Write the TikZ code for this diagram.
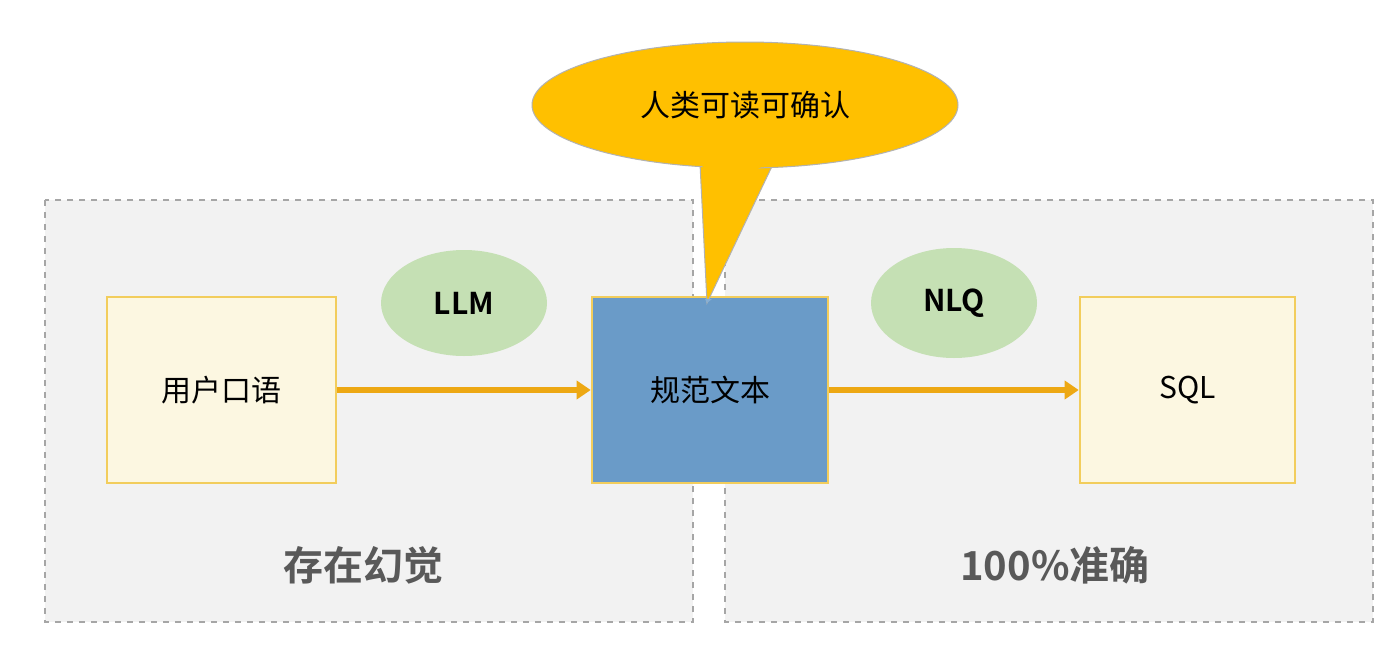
\documentclass[tikz,border=0pt]{standalone}
\usepackage{fontspec}
\setmainfont{Noto Sans CJK SC}[BoldFont={Noto Sans CJK SC Bold}]
\usetikzlibrary{shapes.geometric,arrows.meta}
\definecolor{bggray}{HTML}{F2F2F2}
\definecolor{ylw}{HTML}{FCF7E1}
\definecolor{ybord}{HTML}{F2CD5C}
\definecolor{grn}{HTML}{C5E0B4}
\definecolor{org}{HTML}{EDA813}
\definecolor{blu}{HTML}{6A9BC8}
\definecolor{gold}{HTML}{FFC000}
\definecolor{txtg}{HTML}{595959}
\begin{document}
\begin{tikzpicture}[x=0.5pt,y=-0.5pt,
  panel/.style={draw=gray!70,dashed,fill=bggray,line width=0.6pt},
  box/.style={draw=ybord,line width=1.3pt,minimum width=114.5pt,minimum height=93pt,font=\fontsize{15}{18}\selectfont},
  oval/.style={ellipse,fill=grn,minimum width=83pt,minimum height=53pt,font=\bfseries\fontsize{15}{18}\selectfont},
  arr/.style={draw=org,line width=3pt,-{Triangle[length=7pt,width=9pt]}},
  big/.style={text=txtg,font=\bfseries\fontsize{20}{24}\selectfont}]
\useasboundingbox (0,0) rectangle (1400,648);
\fill[white] (0,0) rectangle (1400,648);
\draw[panel] (45,200) rectangle (693,622);
\draw[panel] (725,200) rectangle (1373,622);
\node[box,fill=ylw] (u) at (221.5,390) {用户口语};
\node[box,fill=blu,minimum width=118pt] (g) at (710,390) {规范文本};
\node[box,fill=ylw,minimum width=107.5pt] (s) at (1187.5,390) {SQL};
\node[oval] (llm) at (464,303) {LLM};
\node[oval,minimum height=55pt] (nlq) at (954,303) {NLQ};
\draw[arr] (u) -- (g);
\draw[arr] (g) -- (s);
% callout
\coordinate (tip) at (707,303);
\path[fill=gold,draw=gray!60,line width=0.5pt] (700,164) -- (tip) -- (775,160) -- cycle;
\node[ellipse,fill=gold,draw=gray!60,line width=0.5pt,minimum width=213pt,minimum height=63pt,font=\fontsize{15}{18}\selectfont] (c) at (745,105) {人类可读可确认};
\fill[gold] (702,160) -- (705,200) -- (773,160) -- cycle;
\fill[blu!80!white] (705,299) -- (tip) -- (712,299) -- cycle;
\node[big] (l1) at (363,565) {存在幻觉};
\node[big] (l2) at (1055,565) {100\%准确};
\end{tikzpicture}
\end{document}
